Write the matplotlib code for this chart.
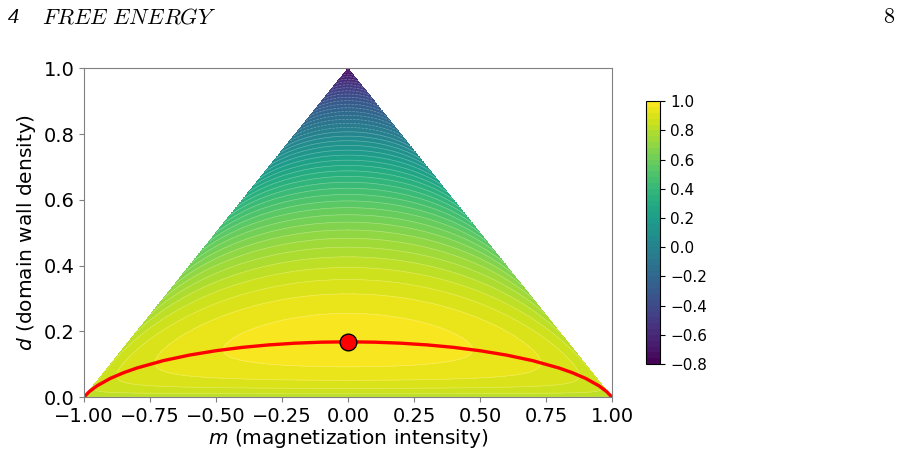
import matplotlib
matplotlib.use('Agg')
import matplotlib.pyplot as plt
import numpy as np

# coupling (ridge peaks at d ~ 0.168, apex value -0.8)
beta_J = 0.8
level_lo, level_hi, level_step = -0.8, 1.0, 0.04
cbar_ticks = [-0.8, -0.6, -0.4, -0.2, 0.0, 0.2, 0.4, 0.6, 0.8, 1.0]
x_ticks = [-1.0, -0.75, -0.5, -0.25, 0.0, 0.25, 0.5, 0.75, 1.0]
y_ticks = [0.0, 0.2, 0.4, 0.6, 0.8, 1.0]

# red curve (most probable d for each m)
curve_m = [-1.0, -0.98, -0.95, -0.9, -0.85, -0.8, -0.7, -0.6, -0.5, -0.4, -0.3, -0.2, -0.1,
           0.0, 0.1, 0.2, 0.3, 0.4, 0.5, 0.6, 0.7, 0.8, 0.85, 0.9, 0.95, 0.98, 1.0]
curve_d = [0.0, 0.0166, 0.0346, 0.0569, 0.0741, 0.0883, 0.1107, 0.1278, 0.1410, 0.1512, 0.1587, 0.1639, 0.1670,
           0.1680, 0.1670, 0.1639, 0.1587, 0.1512, 0.1410, 0.1278, 0.1107, 0.0883, 0.0741, 0.0569, 0.0346, 0.0166, 0.0]
peak_m = [0.0]
peak_d = [0.168]

def h(x):
    x = np.clip(x, 0.0, 1.0)
    out = np.zeros_like(x)
    ok = (x > 0) & (x < 1)
    out[ok] = -x[ok]*np.log(x[ok]) - (1-x[ok])*np.log(1-x[ok])
    return out

# free energy surface of the chain over the allowed triangle d <= 1-|m|
M, D = np.meshgrid(np.linspace(-1, 1, 801), np.linspace(0, 1, 601))
p = (1+M)/2
q = (1-M)/2
with np.errstate(divide='ignore', invalid='ignore'):
    S = p*h(np.where(p > 0, D/(2*p), 0)) + q*h(np.where(q > 0, D/(2*q), 0))
F = S + beta_J*(1 - 2*D)
F = np.ma.masked_where(D > 1 - np.abs(M) + 1e-9, F)

fig = plt.figure(figsize=(9.01, 4.58), dpi=100)
ax = fig.add_axes([0.0932, 0.133, 0.586, 0.718])
cax = fig.add_axes([0.717, 0.205, 0.016, 0.574])

levels = np.arange(level_lo, level_hi + 1e-6, level_step)
cf = ax.contourf(M, D, F, levels=levels, cmap='viridis')
ax.contour(M, D, F, levels=levels, colors='white', linewidths=0.5, alpha=0.3)

ax.plot(curve_m, curve_d, color='red', lw=2.4, solid_capstyle='round')
ax.plot(peak_m, peak_d, 'o', color='red', markeredgecolor='black', markersize=12, markeredgewidth=1.0)

ax.set_xlim(-1, 1)
ax.set_ylim(0, 1)
ax.set_xticks(x_ticks)
ax.set_yticks(y_ticks)
ax.tick_params(labelsize=14, color='#808080')
for sp in ax.spines.values():
    sp.set_color('#808080')
ax.set_xlabel(r'$m$ (magnetization intensity)', fontsize=14.5, labelpad=1)
ax.set_ylabel(r'$d$ (domain wall density)', fontsize=14.5)

cb = fig.colorbar(cf, cax=cax, ticks=cbar_ticks)
cb.ax.tick_params(labelsize=11)

# page header
plt.rcParams['mathtext.fontset'] = 'cm'
fig.text(0.009, 0.949, '4', fontsize=16, family='Liberation Serif', style='italic', va='baseline', ha='left')
fig.text(0.047, 0.949, r'$\mathit{FREE\ ENERGY}$', fontsize=16, va='baseline', ha='left')
fig.text(0.994, 0.949, r'$\mathrm{8}$', fontsize=16, va='baseline', ha='right')

plt.savefig('out.png', dpi=100)
